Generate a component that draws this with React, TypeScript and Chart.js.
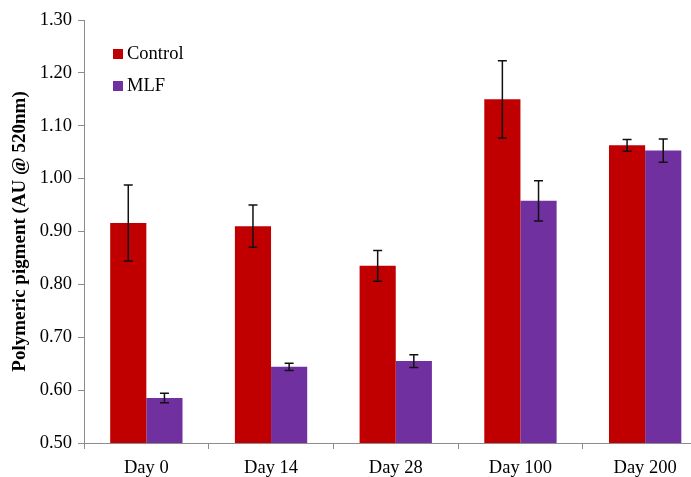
import React, { useEffect, useRef } from "react";
import { Chart, registerables } from "chart.js";

Chart.register(...registerables);

const categories = ["Day 0", "Day 14", "Day 28", "Day 100", "Day 200"];
const controlValues = [0.916, 0.91, 0.835, 1.15, 1.063];
const controlErrors = [0.072, 0.04, 0.029, 0.073, 0.011];
const mlfValues = [0.585, 0.644, 0.655, 0.958, 1.053];
const mlfErrors = [0.009, 0.007, 0.012, 0.038, 0.022];
const seriesNames = ["Control", "MLF"];
const seriesColors = ["#C00000", "#7030A0"];
const yAxisTitle = "Polymeric pigment (AU @ 520nm)";

const FONT = "'Liberation Serif', 'Times New Roman', serif";

const errorBarPlugin = {
  id: "errorBars",
  afterDatasetsDraw(chart: any) {
    const ctx = chart.ctx;
    const yScale = chart.scales.y;
    chart.data.datasets.forEach((ds: any, i: number) => {
      const meta = chart.getDatasetMeta(i);
      meta.data.forEach((bar: any, j: number) => {
        const v = ds.data[j];
        const e = ds.errors[j];
        const x = bar.x;
        const yt = yScale.getPixelForValue(v + e);
        const yb = yScale.getPixelForValue(v - e);
        ctx.save();
        ctx.strokeStyle = "#111";
        ctx.lineWidth = 1.5;
        ctx.beginPath();
        ctx.moveTo(x, yt);
        ctx.lineTo(x, yb);
        ctx.moveTo(x - 4.5, yt);
        ctx.lineTo(x + 4.5, yt);
        ctx.moveTo(x - 4.5, yb);
        ctx.lineTo(x + 4.5, yb);
        ctx.stroke();
        ctx.restore();
      });
    });
  },
};

const legendPlugin = {
  id: "insideLegend",
  afterDraw(chart: any) {
    const ctx = chart.ctx;
    const area = chart.chartArea;
    ctx.save();
    ctx.font = `18.5px ${FONT}`;
    ctx.textBaseline = "middle";
    ctx.textAlign = "left";
    chart.data.datasets.forEach((ds: any, i: number) => {
      const cy = area.top + 34 + i * 32;
      const x = area.left + 29;
      ctx.fillStyle = ds.backgroundColor;
      ctx.fillRect(x, cy - 5, 10, 10);
      ctx.fillStyle = "#000";
      ctx.fillText(ds.label, x + 14, cy);
    });
    ctx.restore();
  },
};

export default function App() {
  const canvasRef = useRef<HTMLCanvasElement | null>(null);

  useEffect(() => {
    const canvas = canvasRef.current;
    if (!canvas) return;
    const chart = new Chart(canvas, {
      type: "bar",
      data: {
        labels: categories,
        datasets: [
          {
            label: seriesNames[0],
            data: controlValues,
            errors: controlErrors,
            backgroundColor: seriesColors[0],
            categoryPercentage: 0.58,
            barPercentage: 1.0,
          } as any,
          {
            label: seriesNames[1],
            data: mlfValues,
            errors: mlfErrors,
            backgroundColor: seriesColors[1],
            categoryPercentage: 0.58,
            barPercentage: 1.0,
          } as any,
        ],
      },
      options: {
        responsive: false,
        animation: false,
        devicePixelRatio: 1,
        layout: { padding: { left: 0, top: 20, right: 12.5, bottom: 0 } },
        plugins: {
          legend: { display: false },
          tooltip: { enabled: false },
        },
        scales: {
          x: {
            grid: {
              display: true,
              offset: true,
              drawOnChartArea: false,
              drawTicks: true,
              tickLength: 6,
              color: "#8c8c8c",
            },
            border: { display: true, color: "#8c8c8c", width: 1 },
            ticks: {
              color: "#000",
              font: { family: FONT, size: 18.5 },
              padding: 8,
            },
            afterFit(scale: any) {
              scale.height = 34;
            },
          },
          y: {
            min: 0.5,
            max: 1.3,
            ticks: {
              stepSize: 0.1,
              color: "#000",
              font: { family: FONT, size: 18.5 },
              padding: 6,
              callback: (v: any) => Number(v).toFixed(2),
            },
            grid: {
              display: true,
              drawOnChartArea: false,
              drawTicks: true,
              tickLength: 6,
              color: "#8c8c8c",
            },
            border: { display: true, color: "#8c8c8c", width: 1 },
            title: {
              display: true,
              text: yAxisTitle,
              color: "#000",
              font: { family: FONT, size: 19, weight: "bold" },
              padding: { top: 9, bottom: 0 },
            },
            afterFit(scale: any) {
              scale.width = 84;
            },
          },
        },
      },
      plugins: [errorBarPlugin, legendPlugin],
    });
    return () => chart.destroy();
  }, []);

  return (
    <div
      style={{
        position: "fixed",
        left: 0,
        top: 0,
        width: 691,
        height: 477,
        overflow: "hidden",
        background: "#fff",
      }}
    >
      <canvas ref={canvasRef} width={720} height={477} style={{ display: "block" }} />
    </div>
  );
}
